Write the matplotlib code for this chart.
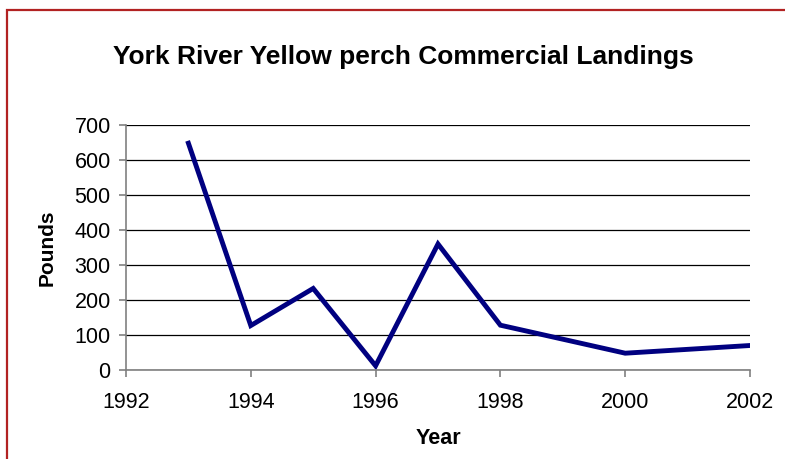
import matplotlib.pyplot as plt
from matplotlib.patches import Rectangle

years = [1993, 1994, 1995, 1996, 1997, 1998, 2000, 2002]
pounds = [648, 127, 233, 12, 360, 128, 48, 70]
x_ticks = [1992, 1994, 1996, 1998, 2000, 2002]
y_ticks = [0, 100, 200, 300, 400, 500, 600, 700]

plt.rcParams['font.family'] = ['Liberation Sans', 'DejaVu Sans']

fig = plt.figure(figsize=(7.85, 4.59), dpi=100)
ax = fig.add_axes([0.1605, 0.1939, 0.7949, 0.5338])

# outer chart frame (cut off at right and bottom like the source)
fig.patches.append(Rectangle((7 / 785, -0.1), 1.2, 1 - 10 / 459 + 0.1,
                             transform=fig.transFigure, fill=False,
                             edgecolor='#B22222', linewidth=1.6))

ax.plot(years, pounds, color='#000080', linewidth=3.5, solid_joinstyle='miter')

ax.set_xlim(1992, 2002)
ax.set_ylim(0, 700)
ax.set_xticks(x_ticks)
ax.set_yticks(y_ticks)
ax.yaxis.grid(True, color='black', linewidth=0.9)
ax.set_axisbelow(True)
for s in ['top', 'right']:
    ax.spines[s].set_visible(False)
for s in ['left', 'bottom']:
    ax.spines[s].set_color('#808080')
    ax.spines[s].set_linewidth(1.2)
ax.tick_params(axis='both', labelsize=15.5, color='#808080', length=5, width=1.2)
ax.tick_params(axis='x', pad=11)
ax.tick_params(axis='y', pad=6)

fig.text(438 / 785, 1 - 439 / 459, 'Year', ha='center', va='center',
         fontsize=15.5, fontweight='bold')
fig.text(47 / 785, 1 - 248 / 459, 'Pounds', ha='center', va='center',
         rotation=90, fontsize=15, fontweight='bold')
fig.text(403 / 785, 1 - 57 / 459, 'York River Yellow perch Commercial Landings',
         ha='center', va='center', fontsize=19, fontweight='bold')

fig.savefig('out.png', dpi=100)
